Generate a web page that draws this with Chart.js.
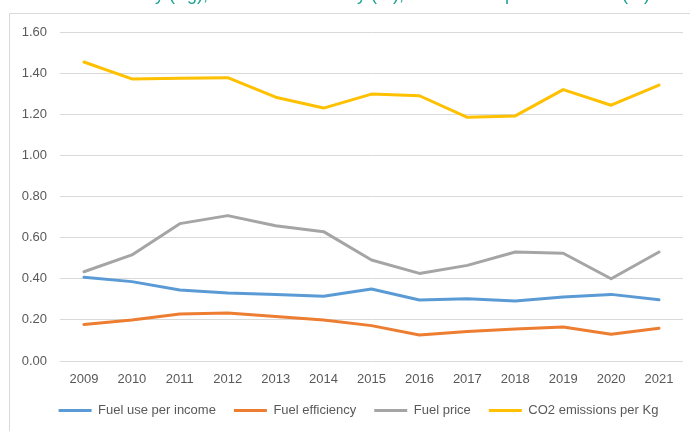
<!DOCTYPE html>
<html>
<head>
<meta charset="utf-8">
<script src="https://cdn.jsdelivr.net/npm/chart.js@4"></script>
<style>
  html, body { margin: 0; padding: 0; background: #fff; }
  #wrap { width: 690px; height: 431px; position: relative; }
</style>
</head>
<body>
<div id="wrap"><canvas id="chart" width="690" height="431"></canvas></div>
<script>
// years on the x axis
const years = ['2009', '2010', '2011', '2012', '2013', '2014', '2015', '2016', '2017', '2018', '2019', '2020', '2021'];

// series
const fuelUsePerIncome = [0.407, 0.386, 0.345, 0.331, 0.323, 0.315, 0.350, 0.297, 0.303, 0.292, 0.311, 0.324, 0.298];
const fuelEfficiency   = [0.177, 0.199, 0.229, 0.233, 0.216, 0.199, 0.172, 0.126, 0.143, 0.156, 0.165, 0.130, 0.159];
const fuelPrice        = [0.434, 0.516, 0.668, 0.707, 0.658, 0.629, 0.491, 0.426, 0.465, 0.530, 0.524, 0.400, 0.530];
const co2PerKg         = [1.454, 1.372, 1.375, 1.378, 1.283, 1.230, 1.298, 1.290, 1.185, 1.192, 1.320, 1.244, 1.342];

const seriesNames = ['Fuel use per income', 'Fuel efficiency', 'Fuel price', 'CO2 emissions per Kg'];
const seriesColors = ['#5b9bd5', '#ed7d31', '#a5a5a5', '#ffc000'];

// heading pieces sitting above the chart frame (cut off at the top edge)
const headingPieces = [
  { text: 'Fuel intensity (Kg),', right: 208 },
  { text: 'Fuel efficiency (%),', right: 404 },
  { text: 'Fuel price increase (%)', right: 650 }
];

const FONT = '"Liberation Sans", Arial, sans-serif';
const TEXT = '#595959';

// chart frame + heading
const frame = {
  id: 'frame',
  beforeDraw(chart) {
    const ctx = chart.ctx;
    ctx.save();
    ctx.strokeStyle = '#d9d9d9';
    ctx.lineWidth = 1;
    ctx.beginPath();
    ctx.moveTo(9.5, 431);
    ctx.lineTo(9.5, 13.5);
    ctx.lineTo(690, 13.5);
    ctx.stroke();

    ctx.fillStyle = '#1fa394';
    ctx.font = '18px ' + FONT;
    ctx.textAlign = 'right';
    ctx.textBaseline = 'alphabetic';
    headingPieces.forEach(p => ctx.fillText(p.text, p.right, 0));
    ctx.restore();
  }
};

// nudge the legend row to the right a bit
const legendShift = {
  id: 'legendShift',
  afterLayout(chart) {
    const lg = chart.legend;
    if (lg) { lg.left += 17; lg.right += 17; }
  }
};

const datasets = [fuelUsePerIncome, fuelEfficiency, fuelPrice, co2PerKg].map((vals, i) => ({
  label: seriesNames[i],
  data: vals,
  borderColor: seriesColors[i],
  backgroundColor: seriesColors[i],
  borderWidth: 3,
  pointRadius: 0,
  pointStyle: 'line',
  tension: 0,
  borderJoinStyle: 'round',
  borderCapStyle: 'round',
  fill: false
}));

new Chart(document.getElementById('chart').getContext('2d'), {
  type: 'line',
  data: { labels: years, datasets: datasets },
  options: {
    responsive: false,
    animation: false,
    layout: { padding: { top: 32, right: 7, left: 0, bottom: 4 } },
    plugins: {
      title: { display: false },
      tooltip: { enabled: false },
      legend: {
        position: 'bottom',
        labels: {
          usePointStyle: true,
          pointStyle: 'line',
          pointStyleWidth: 33,
          padding: 18,
          color: TEXT,
          font: { family: FONT, size: 13 }
        }
      }
    },
    scales: {
      x: {
        offset: true,
        grid: { display: false, drawTicks: false },
        border: { display: false },
        ticks: { color: TEXT, padding: 11, maxRotation: 0, font: { family: FONT, size: 13 } },
        afterFit(scale) { scale.height = 25; }
      },
      y: {
        min: 0,
        max: 1.6,
        grid: { color: '#d9d9d9', lineWidth: 1, drawTicks: false },
        border: { display: false },
        ticks: {
          stepSize: 0.2,
          padding: 13,
          color: TEXT,
          font: { family: FONT, size: 13 },
          callback: v => Number(v).toFixed(2)
        },
        afterFit(scale) { scale.width = 60; }
      }
    }
  },
  plugins: [frame, legendShift]
});
</script>
</body>
</html>
